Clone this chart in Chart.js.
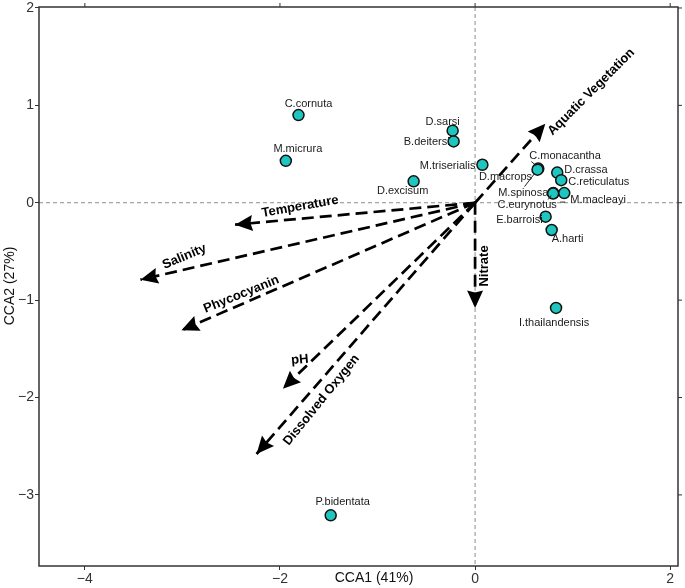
<!DOCTYPE html>
<html>
<head>
<meta charset="utf-8">
<script src="https://cdn.jsdelivr.net/npm/chart.js@4.4.1/dist/chart.umd.min.js"></script>
<style>
html, body { margin: 0; padding: 0; background: #fff; }
#wrap { width: 685px; height: 588px; }
</style>
</head>
<body>
<div id="wrap"><canvas id="cs"></canvas></div>
<script>
// species scores
var species = ["C.cornuta", "M.micrura", "D.sarsi", "B.deitersi", "M.triserialis", "D.excisum",
  "C.monacantha", "D.macrops", "D.crassa", "C.reticulatus", "M.spinosa", "C.eurynotus",
  "M.macleayi", "E.barroisi", "A.harti", "I.thailandensis", "P.bidentata"];
var speciesX = [-1.81, -1.94, -0.23, -0.22, 0.075, -0.63, 0.648, 0.64, 0.842, 0.883, 0.802, 0.80, 0.914, 0.723, 0.785, 0.83, -1.48];
var speciesY = [0.90, 0.43, 0.74, 0.63, 0.39, 0.22, 0.351, 0.34, 0.310, 0.232, 0.099, 0.095, 0.099, -0.143, -0.280, -1.08, -3.21];

// environmental variable arrows (tips)
var variables = ["Temperature", "Salinity", "Phycocyanin", "pH", "Dissolved Oxygen", "Nitrate", "Aquatic Vegetation"];
var varX = [-2.46, -3.43, -3.01, -1.97, -2.24, 0.0, 0.72];
var varY = [-0.225, -0.79, -1.31, -1.91, -2.58, -1.08, 0.81];

var xTicks = [-4, -2, 0, 2];
var yTicks = [-3, -2, -1, 0, 1, 2];

// label placement in pixels relative to the point: [dx, dy, align]
var speciesLabelPos = [
  [10, -11, "center"], [12, -12, "center"], [-10, -9, "center"], [-4, 1, "right"],
  [-7, 1, "right"], [-11, 10, "center"], [-9, -13, "left"], [-32, 7, "center"],
  [7, -3, "left"], [7, 2, "left"], [-5, 0, "right"], [-26, 11, "center"],
  [6, 7, "left"], [-3, 3, "right"], [0, 9, "left"], [-2, 15, "center"], [12, -13, "center"]
];
// leader segments [x1, y1, x2, y2] relative to the point
var leaders = { "C.monacantha": [-7, -7, -2, -3], "D.macrops": [-13, 17, -3, 4], "C.eurynotus": [-5, 6, -2, 2], "M.macleayi": [-4, 9, 1, 9] };
// arrow label placement relative to the tip: [dx, dy, angle deg]
var varLabelPos = [[65, -18, -10], [44, -23, -23], [60, -36, -22], [17, -29, -5], [65, -54, -51], [9, -42, -90], [46, -32, -45]];

var FONT = "'Liberation Sans', Arial, sans-serif";

var datasets = [{
  label: "species",
  data: species.map(function (s, i) { return { x: speciesX[i], y: speciesY[i] }; }),
  pointRadius: 5.5,
  pointBackgroundColor: "#1fc6c0",
  pointBorderColor: "#111",
  pointBorderWidth: 1.5,
  order: 0
}];
variables.forEach(function (v, i) {
  datasets.push({
    label: v,
    data: [{ x: 0, y: 0 }, { x: varX[i], y: varY[i] }],
    showLine: true,
    borderColor: "#000",
    borderWidth: 2.7,
    borderDash: [12, 6],
    pointRadius: 0,
    order: 1
  });
});

var biplot = {
  id: "biplot",
  beforeDatasetsDraw: function (chart) {
    var c = chart.ctx, a = chart.chartArea, xs = chart.scales.x, ys = chart.scales.y;
    c.save();
    c.strokeStyle = "#8c8c8c";
    c.lineWidth = 1;
    c.setLineDash([4, 3]);
    var x0 = xs.getPixelForValue(0), y0 = ys.getPixelForValue(0);
    c.beginPath();
    c.moveTo(x0, a.top); c.lineTo(x0, a.bottom);
    c.moveTo(a.left, y0); c.lineTo(a.right, y0);
    c.stroke();
    c.restore();
  },
  afterDatasetsDraw: function (chart) {
    var c = chart.ctx, a = chart.chartArea, xs = chart.scales.x, ys = chart.scales.y;
    var ox = xs.getPixelForValue(0), oy = ys.getPixelForValue(0);
    c.save();
    // arrow heads + labels
    variables.forEach(function (v, i) {
      var tx = xs.getPixelForValue(varX[i]), ty = ys.getPixelForValue(varY[i]);
      var ang = Math.atan2(ty - oy, tx - ox);
      var L = 17.5, W = 8;
      c.fillStyle = "#000";
      c.beginPath();
      c.moveTo(tx, ty);
      c.lineTo(tx - L * Math.cos(ang) + W * Math.sin(ang), ty - L * Math.sin(ang) - W * Math.cos(ang));
      c.lineTo(tx - L * 0.88 * Math.cos(ang), ty - L * 0.88 * Math.sin(ang));
      c.lineTo(tx - L * Math.cos(ang) - W * Math.sin(ang), ty - L * Math.sin(ang) + W * Math.cos(ang));
      c.closePath();
      c.fill();
      var p = varLabelPos[i];
      c.save();
      c.translate(tx + p[0], ty + p[1]);
      c.rotate(p[2] * Math.PI / 180);
      c.font = "bold 13px " + FONT;
      c.textAlign = "center";
      c.textBaseline = "middle";
      c.fillText(v, 0, 0);
      c.restore();
    });
    // species labels
    c.font = "11px " + FONT;
    c.fillStyle = "#1a1a1a";
    c.textBaseline = "middle";
    species.forEach(function (s, i) {
      var px = xs.getPixelForValue(speciesX[i]), py = ys.getPixelForValue(speciesY[i]);
      var p = speciesLabelPos[i];
      c.textAlign = p[2];
      c.fillText(s, px + p[0], py + p[1]);
      if (leaders[s]) {
        var l = leaders[s];
        c.strokeStyle = "#222";
        c.lineWidth = 1;
        c.beginPath();
        c.moveTo(px + l[0], py + l[1]);
        c.lineTo(px + l[2], py + l[3]);
        c.stroke();
      }
    });
    // box + ticks on top/right
    c.strokeStyle = "#333";
    c.lineWidth = 1.5;
    c.strokeRect(a.left, a.top, a.right - a.left, a.bottom - a.top);
    c.lineWidth = 1;
    c.beginPath();
    xTicks.forEach(function (t) { var x = xs.getPixelForValue(t); c.moveTo(x, a.top); c.lineTo(x, a.top - 4); });
    yTicks.forEach(function (t) { var y = ys.getPixelForValue(t); c.moveTo(a.right, y); c.lineTo(a.right + 4, y); });
    c.stroke();
    // axis titles
    c.fillStyle = "#111";
    c.font = "14px " + FONT;
    c.textAlign = "center";
    c.textBaseline = "middle";
    c.fillText("CCA1 (41%)", 374, 578);
    c.save();
    c.translate(10, 286);
    c.rotate(-Math.PI / 2);
    c.fillText("CCA2 (27%)", 0, 0);
    c.restore();
    c.restore();
  }
};

function minus(v) { return String(v).replace("-", "\u2212"); }

new Chart(document.getElementById("cs"), {
  type: "scatter",
  data: { datasets: datasets },
  plugins: [biplot],
  options: {
    responsive: true,
    maintainAspectRatio: false,
    animation: false,
    layout: { padding: { top: 6, right: 6, left: 0, bottom: 0 } },
    plugins: { legend: { display: false }, tooltip: { enabled: false } },
    scales: {
      x: {
        type: "linear",
        min: -4.47, max: 2.08,
        afterBuildTicks: function (s) { s.ticks = xTicks.map(function (v) { return { value: v }; }); },
        afterFit: function (s) { s.height = 22; s.paddingLeft = 0; s.paddingRight = 0; },
        grid: { drawOnChartArea: false, drawTicks: true, tickLength: 4, color: "#333" },
        border: { display: false },
        ticks: { color: "#333", padding: 1, font: { size: 14, family: FONT }, callback: function (v) { return minus(v); } }
      },
      y: {
        type: "linear",
        min: -3.73, max: 2.01,
        afterBuildTicks: function (s) { s.ticks = yTicks.map(function (v) { return { value: v }; }); },
        afterFit: function (s) { s.width = 39; s.paddingTop = 0; s.paddingBottom = 0; },
        grid: { drawOnChartArea: false, drawTicks: true, tickLength: 4, color: "#333" },
        border: { display: false },
        ticks: { color: "#333", padding: 1, font: { size: 14, family: FONT }, callback: function (v) { return minus(v); } }
      }
    }
  }
});
</script>
</body>
</html>
